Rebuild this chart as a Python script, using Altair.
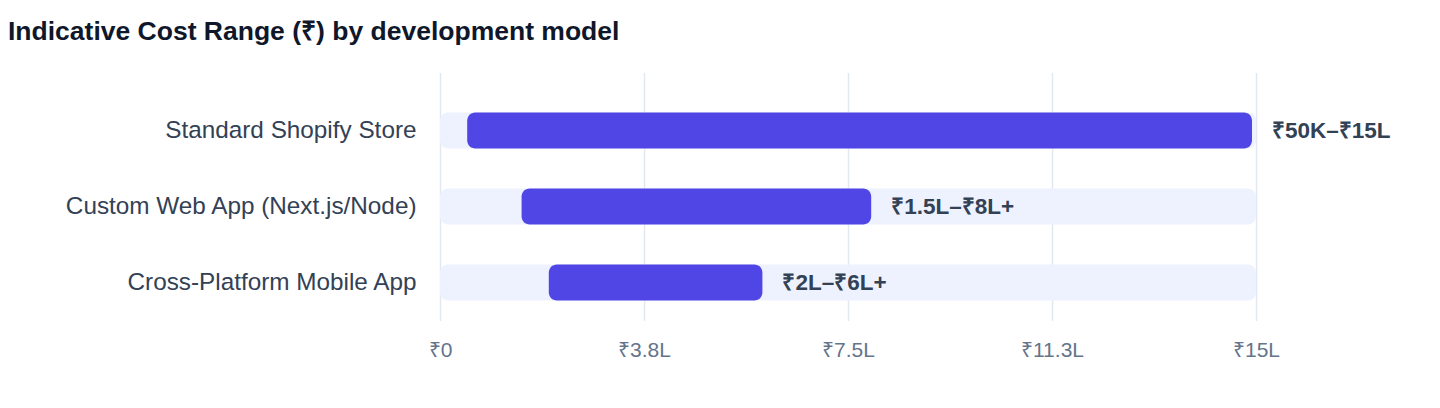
import altair as alt
import pandas as pd

models = ["Standard Shopify Store", "Custom Web App (Next.js/Node)", "Cross-Platform Mobile App"]
cost_min = [50000, 150000, 200000]
cost_max = [1500000, 800000, 600000]
range_labels = ["₹50K–₹15L", "₹1.5L–₹8L+", "₹2L–₹6L+"]
track_start = [0, 0, 0]
track_end = [1500000, 1500000, 1500000]
tick_values = [0, 375000, 750000, 1125000, 1500000]
tick_labels = ["₹0", "₹3.8L", "₹7.5L", "₹11.3L", "₹15L"]

df = pd.DataFrame({
    "model": models,
    "min": cost_min,
    "max": cost_max,
    "label": range_labels,
    "t0": track_start,
    "t1": track_end,
})

FONT = "Liberation Sans, Arial, Helvetica, sans-serif"

label_expr = "[" + ",".join("'%s'" % t for t in tick_labels) + "][indexof([" + \
    ",".join(str(v) for v in tick_values) + "], datum.value)]"

y_enc = alt.Y(
    "model:N",
    sort=models,
    title=None,
    scale=alt.Scale(paddingInner=0.5263, paddingOuter=0.3947, align=0.667),
    axis=alt.Axis(domain=False, ticks=False, grid=False, labelPadding=24,
                  labelFontSize=24.3, labelColor="#334155", labelFont=FONT, labelLimit=500),
)

x_scale = alt.Scale(domain=[0, 1500000], nice=False)

track = alt.Chart(df).mark_bar(color="#EEF2FF", cornerRadius=8).encode(
    x=alt.X("t0:Q", scale=x_scale, title=None,
            axis=alt.Axis(values=tick_values, labelExpr=label_expr, domain=False, ticks=False,
                          grid=True, gridColor="#E2E8F0", gridWidth=1.5, labelFlush=False,
                          labelPadding=19, labelFontSize=21, labelColor="#64748B",
                          labelFont=FONT)),
    x2="t1:Q",
    y=y_enc,
)

bars = alt.Chart(df).mark_bar(color="#4F46E5", cornerRadius=8, x2Offset=-4).encode(
    x=alt.X("min:Q", scale=x_scale),
    x2="max:Q",
    y=y_enc,
)

text = alt.Chart(df).mark_text(align="left", baseline="middle", dx=16, fontSize=22.5,
                               fontWeight="bold", color="#334155", font=FONT).encode(
    x=alt.X("max:Q", scale=x_scale),
    y=y_enc,
    text="label:N",
)

chart = alt.layer(track, bars, text).properties(
    width=816,
    height=248,
    padding={"left": 0, "top": 10.5, "right": 5, "bottom": 5},
    title=alt.TitleParams(
        "Indicative Cost Range (₹) by development model",
        anchor="start", frame="group", dx=-432, fontSize=26.5, fontWeight="bold",
        color="#0F172A", font=FONT, offset=27,
    ),
).configure_view(stroke=None)

chart.save("out.html", embed_options={"renderer": "svg", "actions": False})
